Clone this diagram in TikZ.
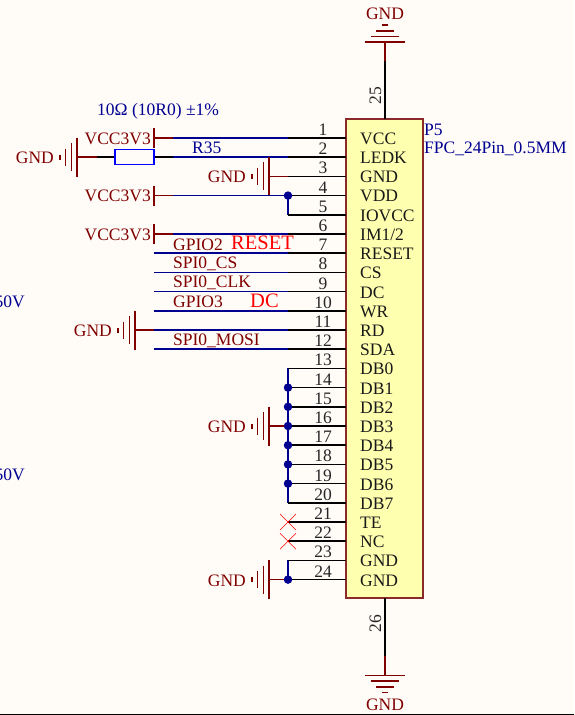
\documentclass[tikz,border=0pt]{standalone}
\usepackage{fontspec}
\setmainfont{Liberation Serif}
\usetikzlibrary{positioning}
\definecolor{sheet}{HTML}{FFFCF8}
\definecolor{darkred}{HTML}{800000}
\definecolor{navy}{HTML}{000090}
\definecolor{boxfill}{HTML}{FFFFB0}
\definecolor{boxline}{HTML}{8B2A2A}
\tikzset{
	txt/.style={inner sep=0pt,yshift=-0.7pt,font=\fontsize{17.5}{18}\selectfont},
	pinnum/.style={txt,text=black!85},
	pinname/.style={txt,anchor=west,text=black!90},
	power/.style={txt,anchor=east,text=darkred},
	netname/.style={txt,anchor=west,text=darkred},
	partname/.style={txt,anchor=west,text=navy},
	remark/.style={txt,anchor=west,text=red,font=\fontsize{20.5}{21}\selectfont},
	pinline/.style={black,line width=1.5pt},
	wire/.style={navy,line width=1.5pt},
	stub/.style={darkred,line width=1.5pt},
	bar/.style={darkred,line width=1.5pt},
	junction/.style={circle,fill=navy,inner sep=0pt,minimum size=8.5pt},
	cross/.style={red,line width=0.6pt},
	pics/gndleft/.style={code={
		\draw[bar] (0,-19.5) -- (0,19.5);
		\draw[bar] (-5.5,-14) -- (-5.5,14);
		\draw[bar] (-11.5,-8.5) -- (-11.5,8.5);
		\draw[bar] (-17,-2.5) -- (-17,2.5);
	}},
	pics/vccbar/.style={code={
		\draw[bar] (0,-10) -- (0,10);
	}}
}
\begin{document}
\begin{tikzpicture}[x=1pt,y=-1pt]
	\path[fill=sheet,use as bounding box] (0,0) rectangle (574,715);
	\coordinate (edgeL) at (0,714);
	\coordinate (edgeR) at (574,714);
	\draw[black,line width=1pt] (edgeL) -- (edgeR);

	\node (P5) at (384.5,358.5) [fill=boxfill,draw=boxline,line width=1.2pt,minimum width=77,minimum height=479,inner sep=0pt] {};
	\node (P5des) at (424,129) [partname] {P5};
	\node (P5com) at (424,148) [partname] {FPC\_24Pin\_0.5MM};

	%pin names
	\node (name1) at (360,138) [pinname] {VCC};
	\node (name2) at (360,157.2) [pinname] {LEDK};
	\node (name3) at (360,176.4) [pinname] {GND};
	\node (name4) at (360,195.6) [pinname] {VDD};
	\node (name5) at (360,214.8) [pinname] {IOVCC};
	\node (name6) at (360,234) [pinname] {IM1/2};
	\node (name7) at (360,253.2) [pinname] {RESET};
	\node (name8) at (360,272.4) [pinname] {CS};
	\node (name9) at (360,291.6) [pinname] {DC};
	\node (name10) at (360,310.8) [pinname] {WR};
	\node (name11) at (360,330) [pinname] {RD};
	\node (name12) at (360,349.2) [pinname] {SDA};
	\node (name13) at (360,368.4) [pinname] {DB0};
	\node (name14) at (360,387.6) [pinname] {DB1};
	\node (name15) at (360,406.8) [pinname] {DB2};
	\node (name16) at (360,426) [pinname] {DB3};
	\node (name17) at (360,445.2) [pinname] {DB4};
	\node (name18) at (360,464.4) [pinname] {DB5};
	\node (name19) at (360,483.6) [pinname] {DB6};
	\node (name20) at (360,502.8) [pinname] {DB7};
	\node (name21) at (360,522) [pinname] {TE};
	\node (name22) at (360,541.2) [pinname] {NC};
	\node (name23) at (360,560.4) [pinname] {GND};
	\node (name24) at (360,579.6) [pinname] {GND};

	%pin numbers
	\node (num1) at (323,129) [pinnum] {1};
	\node (num2) at (323,148.2) [pinnum] {2};
	\node (num3) at (323,167.4) [pinnum] {3};
	\node (num4) at (323,186.6) [pinnum] {4};
	\node (num5) at (323,205.8) [pinnum] {5};
	\node (num6) at (323,225) [pinnum] {6};
	\node (num7) at (323,244.2) [pinnum] {7};
	\node (num8) at (323,263.4) [pinnum] {8};
	\node (num9) at (323,282.6) [pinnum] {9};
	\node (num10) at (323,301.8) [pinnum] {10};
	\node (num11) at (323,321) [pinnum] {11};
	\node (num12) at (323,340.2) [pinnum] {12};
	\node (num13) at (323,359.4) [pinnum] {13};
	\node (num14) at (323,378.6) [pinnum] {14};
	\node (num15) at (323,397.8) [pinnum] {15};
	\node (num16) at (323,417) [pinnum] {16};
	\node (num17) at (323,436.2) [pinnum] {17};
	\node (num18) at (323,455.4) [pinnum] {18};
	\node (num19) at (323,474.6) [pinnum] {19};
	\node (num20) at (323,493.8) [pinnum] {20};
	\node (num21) at (323,513) [pinnum] {21};
	\node (num22) at (323,532.2) [pinnum] {22};
	\node (num23) at (323,551.4) [pinnum] {23};
	\node (num24) at (323,570.6) [pinnum] {24};
	\node (num25) at (375.5,95) [pinnum,rotate=90] {25};
	\node (num26) at (375.5,623) [pinnum,rotate=90] {26};

	%pin ends on the box
	\coordinate (a1) at (346,138);
	\coordinate (a2) at (346,157.2);
	\coordinate (a3) at (346,176.4);
	\coordinate (a4) at (346,195.6);
	\coordinate (a5) at (346,214.8);
	\coordinate (a6) at (346,234);
	\coordinate (a7) at (346,253.2);
	\coordinate (a8) at (346,272.4);
	\coordinate (a9) at (346,291.6);
	\coordinate (a10) at (346,310.8);
	\coordinate (a11) at (346,330);
	\coordinate (a12) at (346,349.2);
	\coordinate (a13) at (346,368.4);
	\coordinate (a14) at (346,387.6);
	\coordinate (a15) at (346,406.8);
	\coordinate (a16) at (346,426);
	\coordinate (a17) at (346,445.2);
	\coordinate (a18) at (346,464.4);
	\coordinate (a19) at (346,483.6);
	\coordinate (a20) at (346,502.8);
	\coordinate (a21) at (346,522);
	\coordinate (a22) at (346,541.2);
	\coordinate (a23) at (346,560.4);
	\coordinate (a24) at (346,579.6);

	%pin ends on the wires
	\coordinate (b1) at (288,138);
	\coordinate (b2) at (288,157.2);
	\coordinate (b3) at (288,176.4);
	\coordinate (b4) at (288,195.6);
	\coordinate (b5) at (288,214.8);
	\coordinate (b6) at (288,234);
	\coordinate (b7) at (288,253.2);
	\coordinate (b8) at (288,272.4);
	\coordinate (b9) at (288,291.6);
	\coordinate (b10) at (288,310.8);
	\coordinate (b11) at (288,330);
	\coordinate (b12) at (288,349.2);
	\coordinate (b13) at (288,368.4);
	\coordinate (b14) at (288,387.6);
	\coordinate (b15) at (288,406.8);
	\coordinate (b16) at (288,426);
	\coordinate (b17) at (288,445.2);
	\coordinate (b18) at (288,464.4);
	\coordinate (b19) at (288,483.6);
	\coordinate (b20) at (288,502.8);
	\coordinate (b21) at (288,522);
	\coordinate (b22) at (288,541.2);
	\coordinate (b23) at (288,560.4);
	\coordinate (b24) at (288,579.6);

	%vertical wires first, the pins go over them
	\draw[wire] (b4) -- (b5);
	\draw[wire] (b13) -- (b20);
	\draw[wire] (b23) -- (b24);

	\draw[pinline] (b1) -- (a1);
	\draw[pinline] (b2) -- (a2);
	\draw[pinline] (b3) -- (a3);
	\draw[pinline] (b4) -- (a4);
	\draw[pinline] (b5) -- (a5);
	\draw[pinline] (b6) -- (a6);
	\draw[pinline] (b7) -- (a7);
	\draw[pinline] (b8) -- (a8);
	\draw[pinline] (b9) -- (a9);
	\draw[pinline] (b10) -- (a10);
	\draw[pinline] (b11) -- (a11);
	\draw[pinline] (b12) -- (a12);
	\draw[pinline] (b13) -- (a13);
	\draw[pinline] (b14) -- (a14);
	\draw[pinline] (b15) -- (a15);
	\draw[pinline] (b16) -- (a16);
	\draw[pinline] (b17) -- (a17);
	\draw[pinline] (b18) -- (a18);
	\draw[pinline] (b19) -- (a19);
	\draw[pinline] (b20) -- (a20);
	\draw[pinline] (b21) -- (a21);
	\draw[pinline] (b22) -- (a22);
	\draw[pinline] (b23) -- (a23);
	\draw[pinline] (b24) -- (a24);

	%junctions
	\node (j4) at (b4) [junction] {};
	\node (j14) at (b14) [junction] {};
	\node (j15) at (b15) [junction] {};
	\node (j16) at (b16) [junction] {};
	\node (j17) at (b17) [junction] {};
	\node (j18) at (b18) [junction] {};
	\node (j19) at (b19) [junction] {};
	\node (j24) at (b24) [junction] {};

	%top and bottom pins
	\coordinate (top) at (385,119);
	\coordinate (topw) at (385,61);
	\coordinate (topg) at (385,42);
	\coordinate (bot) at (385,598);
	\coordinate (botw) at (385,656);
	\coordinate (botg) at (385,675.5);
	\draw[pinline] (top) -- (topw);
	\draw[stub] (topw) -- (topg);
	\draw[pinline] (bot) -- (botw);
	\draw[stub] (botw) -- (botg);
	\draw[bar] (365,42) -- (405,42);
	\draw[bar] (371,36.5) -- (399,36.5);
	\draw[bar] (376,31) -- (394,31);
	\draw[bar] (382,25) -- (388,25);
	\draw[bar] (365,675.5) -- (405,675.5);
	\draw[bar] (371,681) -- (399,681);
	\draw[bar] (376,687) -- (394,687);
	\draw[bar] (382,692.5) -- (388,692.5);
	\node (gndtop) at (385,13.5) [txt,text=darkred] {GND};
	\node (gndbot) at (385,704) [txt,text=darkred] {GND};

	%resistor on pin 2
	\node (R35) at (134.5,157.2) [draw=blue,fill=sheet,line width=1.2pt,minimum width=39,minimum height=15,inner sep=0pt] {};
	\node (R35des) at (192,147.5) [partname] {R35};
	\node (R35val) at (97,110.5) [partname] {10Ω (10R0) ±1\%};
	\coordinate (r35l) at (97,157.2);
	\coordinate (r35r) at (173,157.2);
	\draw[pinline] (r35l) -- (R35.west);
	\draw[pinline] (R35.east) -- (r35r);
	\draw[wire] (r35r) -- (b2);

	%GND on pin 2 side
	\coordinate (g2) at (77,157.2);
	\pic (gnd2) at (g2) {gndleft};
	\draw[stub] (g2) -- (r35l);
	\node (gnd2txt) at (54,157.2) [power] {GND};

	%GND of pin 3
	\coordinate (g3) at (269,176.4);
	\pic (gnd3) at (g3) {gndleft};
	\draw[stub] (g3) -- (b3);
	\node (gnd3txt) at (246,176.4) [power] {GND};

	%GND of pin 11
	\coordinate (g11) at (135,330);
	\coordinate (w11) at (154,330);
	\pic (gnd11) at (g11) {gndleft};
	\draw[stub] (g11) -- (w11);
	\draw[wire] (w11) -- (b11);
	\node (gnd11txt) at (112,330) [power] {GND};

	%GND of pins 13 to 20
	\coordinate (g16) at (269,426);
	\pic (gnd16) at (g16) {gndleft};
	\draw[stub] (g16) -- (j16);
	\node (gnd16txt) at (246,426) [power] {GND};

	%GND of pins 23 and 24
	\coordinate (g24) at (269,579.6);
	\pic (gnd24) at (g24) {gndleft};
	\draw[stub] (g24) -- (j24);
	\node (gnd24txt) at (246,579.6) [power] {GND};

	%VCC3V3
	\coordinate (v1) at (154,138);
	\coordinate (v1w) at (173,138);
	\pic (vcc1) at (v1) {vccbar};
	\draw[stub] (v1) -- (v1w);
	\draw[wire] (v1w) -- (b1);
	\node (vcc1txt) at (151,138) [power] {VCC3V3};

	\coordinate (v4) at (154,195.6);
	\coordinate (v4w) at (173,195.6);
	\pic (vcc4) at (v4) {vccbar};
	\draw[stub] (v4) -- (v4w);
	\draw[wire] (v4w) -- (j4);
	\node (vcc4txt) at (151,195.6) [power] {VCC3V3};

	\coordinate (v6) at (154,234);
	\coordinate (v6w) at (173,234);
	\pic (vcc6) at (v6) {vccbar};
	\draw[stub] (v6) -- (v6w);
	\draw[wire] (v6w) -- (b6);
	\node (vcc6txt) at (151,234) [power] {VCC3V3};

	%nets
	\coordinate (w7) at (154,253.2);
	\coordinate (w8) at (154,272.4);
	\coordinate (w9) at (154,291.6);
	\coordinate (w10) at (154,310.8);
	\coordinate (w12) at (154,349.2);
	\draw[wire] (w7) -- (b7);
	\draw[wire] (w8) -- (b8);
	\draw[wire] (w9) -- (b9);
	\draw[wire] (w10) -- (b10);
	\draw[wire] (w12) -- (b12);
	\node (net7) at (173,244) [netname] {GPIO2};
	\node (net8) at (173,263.4) [netname] {SPI0\_CS};
	\node (net9) at (173,282.6) [netname] {SPI0\_CLK};
	\node (net10) at (173,301.5) [netname] {GPIO3};
	\node (net12) at (173,340.2) [netname] {SPI0\_MOSI};
	\node (noteRESET) at (231,242.5) [remark] {RESET};
	\node (noteDC) at (250,300.5) [remark] {DC};

	%unconnected pins
	\coordinate (x21a) at (280,514);
	\coordinate (x21b) at (296,530);
	\coordinate (x21c) at (296,514);
	\coordinate (x21d) at (280,530);
	\coordinate (x22a) at (280,533.2);
	\coordinate (x22b) at (296,549.2);
	\coordinate (x22c) at (296,533.2);
	\coordinate (x22d) at (280,549.2);
	\draw[cross] (x21a) -- (x21b);
	\draw[cross] (x21c) -- (x21d);
	\draw[cross] (x22a) -- (x22b);
	\draw[cross] (x22c) -- (x22d);

	%cut off at the left edge
	\node (volt1) at (25,301) [txt,anchor=east,text=navy] {50V};
	\node (volt2) at (25,474) [txt,anchor=east,text=navy] {50V};
\end{tikzpicture}
\end{document}
